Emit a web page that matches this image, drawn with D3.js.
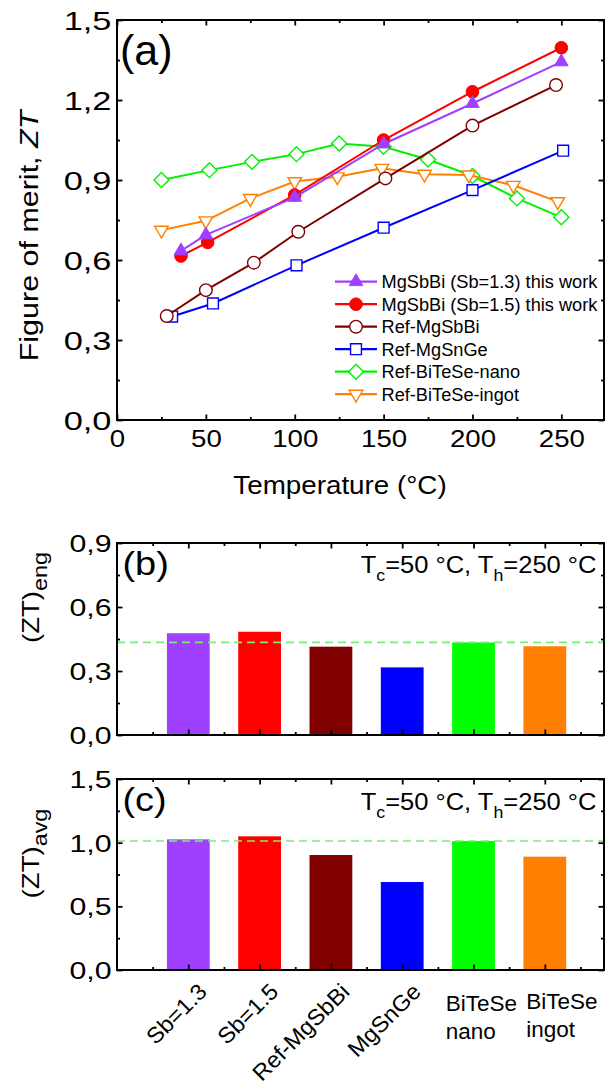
<!DOCTYPE html>
<html>
<head>
<meta charset="utf-8">
<script src="https://cdn.jsdelivr.net/npm/d3@7"></script>
<style>
  body { margin: 0; background: #fff; }
  svg text { font-family: "Liberation Sans", Arial, Helvetica, sans-serif; fill: #000; }
</style>
</head>
<body>
<svg id="fig" width="608" height="1090"></svg>
<script>
// ---------- data: ZT vs temperature ----------
const sb13Temp = [36, 50, 100, 150, 200, 250];
const sb13ZT   = [0.634, 0.694, 0.835, 1.035, 1.187, 1.343];

const sb15Temp = [36, 51, 100, 150, 200, 250];
const sb15ZT   = [0.615, 0.666, 0.844, 1.05, 1.231, 1.396];

const refMgSbBiTemp = [28, 50, 77, 102, 151, 200, 247];
const refMgSbBiZT   = [0.39, 0.487, 0.59, 0.706, 0.906, 1.104, 1.256];

const refMgSnGeTemp = [31, 54, 101, 150, 200, 251];
const refMgSnGeZT   = [0.388, 0.437, 0.58, 0.721, 0.862, 1.01];

const nanoTemp = [25, 52, 76, 101, 125, 150, 175, 200, 225, 250];
const nanoZT   = [0.90, 0.937, 0.968, 0.997, 1.037, 1.025, 0.977, 0.915, 0.831, 0.76];

const ingotTemp = [25, 50, 75, 100, 124, 149, 173, 198, 223, 248];
const ingotZT   = [0.712, 0.747, 0.831, 0.894, 0.912, 0.944, 0.922, 0.919, 0.88, 0.819];

const legendNames = [
  "MgSbBi (Sb=1.3) this work",
  "MgSbBi (Sb=1.5) this work",
  "Ref-MgSbBi",
  "Ref-MgSnGe",
  "Ref-BiTeSe-nano",
  "Ref-BiTeSe-ingot"
];

// ---------- data: engineering / average ZT (Tc=50 °C, Th=250 °C) ----------
const barLabels = ["Sb=1.3", "Sb=1.5", "Ref-MgSbBi", "MgSnGe", "BiTeSe\nnano", "BiTeSe\ningot"];
const ztEng = [0.477, 0.484, 0.414, 0.317, 0.434, 0.416];
const ztAvg = [1.026, 1.05, 0.903, 0.691, 1.013, 0.89];
const refBarIndex = 4; // dashed guide at the BiTeSe-nano level

// ---------- tick values ----------
const tempTicks  = [0, 50, 100, 150, 200, 250];
const tempMinor  = [25, 75, 125, 175, 225];
const ztTicks    = [0, 0.3, 0.6, 0.9, 1.2, 1.5];
const ztMinor    = [0.15, 0.45, 0.75, 1.05, 1.35];
const engTicks   = [0, 0.3, 0.6, 0.9];
const engMinor   = [0.15, 0.45, 0.75];
const avgTicks   = [0, 0.5, 1.0, 1.5];
const avgMinor   = [0.25, 0.75, 1.25];

// ---------- styles ----------
const seriesKeys = ["sb13", "sb15", "refSbBi", "refSnGe", "nano", "ingot"];
const seriesData = {
  sb13:    { t: sb13Temp,      zt: sb13ZT },
  sb15:    { t: sb15Temp,      zt: sb15ZT },
  refSbBi: { t: refMgSbBiTemp, zt: refMgSbBiZT },
  refSnGe: { t: refMgSnGeTemp, zt: refMgSnGeZT },
  nano:    { t: nanoTemp,      zt: nanoZT },
  ingot:   { t: ingotTemp,     zt: ingotZT }
};
const style = {
  sb13:    { color: "#9F40FF", shape: "tri",   filled: true },
  sb15:    { color: "#FF0000", shape: "circ",  filled: true },
  refSbBi: { color: "#800000", shape: "circ",  filled: false },
  refSnGe: { color: "#0000FF", shape: "sq",    filled: false },
  nano:    { color: "#00F000", shape: "diam",  filled: false },
  ingot:   { color: "#FF8000", shape: "dtri",  filled: false }
};
const barColors = ["#9F40FF", "#FF0000", "#800000", "#0000FF", "#00FF00", "#FF8000"];

const commaFmt = d => d3.format(".1f")(d).replace(".", ",");
const svg = d3.select("#fig");

function symbolPath(shape) {
  const sym = {
    tri:  d3.symbol(d3.symbolTriangle, 80),
    dtri: d3.symbol(d3.symbolTriangle, 80),
    circ: d3.symbol(d3.symbolCircle, 125),
    sq:   d3.symbol(d3.symbolSquare, 118),
    diam: d3.symbol(d3.symbolSquare, 112)
  }[shape];
  return sym();
}
function symbolRot(shape) {
  return shape === "dtri" ? 180 : shape === "diam" ? 45 : 0;
}
function drawMarker(g, key, cx, cy) {
  const st = style[key];
  g.append("path")
    .attr("d", symbolPath(st.shape))
    .attr("transform", `translate(${cx},${cy}) rotate(${symbolRot(st.shape)})`)
    .attr("fill", st.filled ? st.color : "#fff")
    .attr("stroke", st.color)
    .attr("stroke-width", st.filled ? 1 : 1.4);
}

// inward ticks on all four sides + frame
function drawFrame(g, x, y, box, xMajor, xMinor, yMajor, yMinor) {
  const mk = (axisFn, scale, vals, size, tr) => {
    const a = g.append("g").attr("transform", tr)
      .call(axisFn(scale).tickValues(vals).tickSize(-size).tickFormat(""));
    a.select(".domain").remove();
    a.selectAll(".tick line").attr("stroke", "#000").attr("stroke-width", 1.8);
    return a;
  };
  mk(d3.axisBottom, x, xMajor, 5.5, `translate(0,${box.bottom})`);
  mk(d3.axisTop, x, xMajor, 5.5, `translate(0,${box.top})`);
  mk(d3.axisBottom, x, xMinor, 3, `translate(0,${box.bottom})`);
  mk(d3.axisTop, x, xMinor, 3, `translate(0,${box.top})`);
  mk(d3.axisLeft, y, yMajor, 5.5, `translate(${box.left},0)`);
  mk(d3.axisRight, y, yMajor, 5.5, `translate(${box.right},0)`);
  mk(d3.axisLeft, y, yMinor, 3, `translate(${box.left},0)`);
  mk(d3.axisRight, y, yMinor, 3, `translate(${box.right},0)`);
  g.append("rect")
    .attr("x", box.left).attr("y", box.top)
    .attr("width", box.right - box.left).attr("height", box.bottom - box.top)
    .attr("fill", "none").attr("stroke", "#000").attr("stroke-width", 2);
}

function yLabels(g, y, vals, box, size, sx) {
  const a = g.append("g").attr("transform", `translate(${box.left},0)`)
    .call(d3.axisLeft(y).tickValues(vals).tickSize(0).tickFormat(commaFmt));
  a.select(".domain").remove();
  a.attr("font-family", null).attr("font-size", null);
  a.selectAll("text")
    .attr("x", 0).attr("dy", "0.36em")
    .attr("transform", `translate(-5.5,0) scale(${sx},1)`)
    .style("font-size", size + "px")
    .attr("text-anchor", "end");
}

// ============ panel (a) ============
const A = { left: 117, right: 604, top: 20, bottom: 420 };
const xT = d3.scaleLinear().domain([0, 274]).range([A.left, A.right]);
const yZT = d3.scaleLinear().domain([0, 1.5]).range([A.bottom, A.top]);
const gA = svg.append("g");

const drawOrder = ["nano", "ingot", "refSnGe", "refSbBi", "sb15", "sb13"];
const line = d3.line().x(d => xT(d[0])).y(d => yZT(d[1]));
drawOrder.forEach(key => {
  const s = seriesData[key];
  const pts = s.t.map((t, i) => [t, s.zt[i]]);
  const g = gA.append("g");
  g.append("path").datum(pts).attr("d", line)
    .attr("fill", "none").attr("stroke", style[key].color).attr("stroke-width", 2);
  pts.forEach(p => drawMarker(g, key, xT(p[0]), yZT(p[1])));
});

drawFrame(gA, xT, yZT, A, tempTicks, tempMinor, ztTicks, ztMinor);
yLabels(gA, yZT, ztTicks, A, 25.5, 1.35);

// x tick labels
{
  const a = gA.append("g").attr("transform", `translate(0,${A.bottom})`)
    .call(d3.axisBottom(xT).tickValues(tempTicks).tickSize(0).tickFormat(d3.format("d")));
  a.select(".domain").remove();
  a.attr("font-family", null).attr("font-size", null);
  a.selectAll("text").attr("y", 0).attr("dy", 0)
    .attr("transform", "translate(0,26.7) scale(1.15,1)")
    .style("font-size", "24px");
}

gA.append("text").attr("x", 120).attr("y", 64.5)
  .style("font-size", "43px").text("(a)");

gA.append("text")
  .attr("transform", "translate(340,494.3) scale(1.09,1)")
  .attr("text-anchor", "middle").style("font-size", "25.5px")
  .text("Temperature (°C)");

{
  const t = gA.append("text")
    .attr("transform", "translate(37.5,236) rotate(-90) scale(1.15,1)")
    .attr("text-anchor", "middle").style("font-size", "26.5px");
  t.append("tspan").text("Figure of merit, ");
  t.append("tspan").style("font-style", "italic").text("ZT");
}

// legend
{
  const lg = gA.append("g");
  seriesKeys.forEach((key, i) => {
    const yy = 281.7 + i * 22.5;
    lg.append("line").attr("x1", 335).attr("x2", 377).attr("y1", yy).attr("y2", yy)
      .attr("stroke", style[key].color).attr("stroke-width", 2.2);
    drawMarker(lg, key, 356, yy);
    lg.append("text")
      .attr("transform", `translate(381.5,${yy + 6.3}) scale(1.04,1)`)
      .style("font-size", "17.5px").text(legendNames[i]);
  });
}

// ============ panels (b) and (c) ============
const xCat = d3.scaleLinear().domain([0, 6.83]).range([117, 604]);
const barW = xCat(0.6) - xCat(0);
const catMajor = d3.range(1, barLabels.length + 1);
const catMinor = d3.range(0.5, 7, 1);

function barPanel(box, values, yMax, yMajor, yMinor, label, sub, tempBaseline, titleY) {
  const y = d3.scaleLinear().domain([0, yMax]).range([box.bottom, box.top]);
  const g = svg.append("g");
  g.selectAll("rect.bar").data(values).join("rect")
    .attr("class", "bar")
    .attr("x", (d, i) => xCat(i + 1) - barW / 2)
    .attr("y", d => y(d))
    .attr("width", barW)
    .attr("height", d => y(0) - y(d))
    .attr("fill", (d, i) => barColors[i]);

  g.append("line")
    .attr("x1", box.left).attr("x2", box.right)
    .attr("y1", y(values[refBarIndex])).attr("y2", y(values[refBarIndex]))
    .attr("stroke", "#77EE77").attr("stroke-width", 1.6)
    .attr("stroke-dasharray", "8,5");

  drawFrame(g, xCat, y, box, catMajor, catMinor, yMajor, yMinor);
  yLabels(g, y, yMajor, box, 23.3, 1.3);

  g.append("text")
    .attr("transform", `translate(122.4,${box.top + 31.8}) scale(1.15,1)`)
    .style("font-size", "33px").text(label);

  const ann = g.append("text")
    .attr("transform", `translate(596.5,${tempBaseline}) scale(1.11,1)`)
    .attr("text-anchor", "end").style("font-size", "23px");
  ann.append("tspan").text("T");
  ann.append("tspan").attr("dy", 8).style("font-size", "16px").text("c");
  ann.append("tspan").attr("dy", -8).text("=50 °C, T");
  ann.append("tspan").attr("dy", 8).style("font-size", "16px").text("h");
  ann.append("tspan").attr("dy", -8).text("=250 °C");

  const yt = g.append("text")
    .attr("transform", `translate(38.5,${titleY}) rotate(-90) scale(1.2,1)`)
    .attr("text-anchor", "middle").style("font-size", "23px");
  yt.append("tspan").text("(ZT)");
  yt.append("tspan").attr("dy", 8).style("font-size", "19.5px").text(sub);
  return g;
}

const B = { left: 117, right: 604, top: 543, bottom: 735 };
const C = { left: 117, right: 604, top: 779, bottom: 970 };
barPanel(B, ztEng, 0.9, engTicks, engMinor, "(b)", "eng", 573.3, 597.5);
const gC = barPanel(C, ztAvg, 1.5, avgTicks, avgMinor, "(c)", "avg", 810, 853.5);

// category labels under panel (c)
{
  const a = gC.append("g").attr("transform", `translate(0,${C.bottom})`)
    .call(d3.axisBottom(xCat).tickValues(catMajor).tickSize(0).tickFormat(""));
  a.select(".domain").remove();
  const stackedDx = { 4: -27.7, 5: -18.5 };
  barLabels.forEach((lab, i) => {
    const cx = xCat(i + 1);
    const parts = lab.split("\n");
    if (parts.length === 1) {
      gC.append("text")
        .attr("transform", `translate(${cx + 20},993) rotate(-45) scale(1.04,1)`)
        .attr("text-anchor", "end").style("font-size", "22.5px").text(lab);
    } else {
      const t = gC.append("text")
        .attr("x", cx + stackedDx[i]).attr("y", i === 4 ? 1011 : 1008.5)
        .style("font-size", "22.5px");
      parts.forEach((p, k) => {
        t.append("tspan").attr("x", cx + stackedDx[i]).attr("dy", k === 0 ? 0 : 28.3).text(p);
      });
    }
  });
}
</script>
</body>
</html>
